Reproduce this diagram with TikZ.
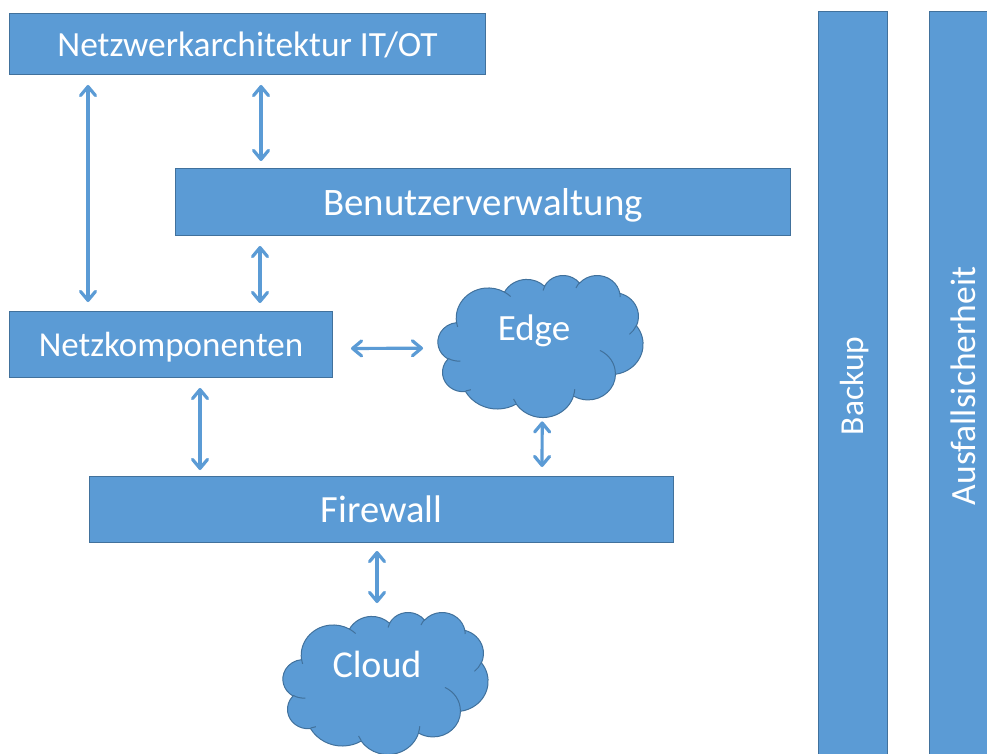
\documentclass[tikz,border=0pt]{standalone}
\usepackage{fontspec}
\setmainfont{Carlito}
\usetikzlibrary{arrows.meta}
\definecolor{shapefill}{HTML}{5B9BD5}
\definecolor{shapeline}{HTML}{41719C}
\newcommand\fsz[1]{\fontsize{#1pt}{#1pt}\selectfont}
% one arc of the cloud outline: radii in 1/43200 of the box,
% start and sweep are visual angles, turned into parametric ones
\newcommand\cldarc[4]{arc[x radius={#1/1000*\cldw/43.2}, y radius={#2/1000*\cldh/43.2},
  start angle={atan2(#1*sin(#3),#2*cos(#3))},
  delta angle={mod(atan2(#1*sin(#3+#4),#2*cos(#3+#4))-atan2(#1*sin(#3),#2*cos(#3))+720,360)}]}
% a point of the cloud, in thousandths of 43.2 units of the box
\newcommand\cldpt[2]{({\cldx+#1*\cldw/43.2},{\cldy+#2*\cldh/43.2})}
% cloud in the box with top left corner (#1,#2), width #3, height #4
\newcommand\officecloud[4]{%
  \def\cldx{#1}\def\cldy{#2}\def\cldw{#3}\def\cldh{#4}%
  \path[cloudbody] \cldpt{3.900}{14.370}
    \cldarc{6753}{9190}{-190.4875}{123.7805}
    \cldarc{5333}{7267}{-144.1024}{89.9452}
    \cldarc{4365}{5945}{-145.8079}{99.7230}
    \cldarc{4857}{6595}{-130.9861}{117.2417}
    \cldarc{5333}{7273}{-78.7089}{109.0269}
    \cldarc{6775}{9220}{-46.2673}{130.2690}
    \cldarc{5785}{7867}{0.6250}{114.0333}
    \cldarc{6752}{9215}{22.4516}{115.1726}
    \cldarc{7720}{10543}{66.2426}{75.7110}
    \cldarc{4360}{5918}{-274.9421}{146.7356}
    \cldarc{4345}{5945}{-246.8285}{152.5189}
    -- cycle;
  \path[cloudcrease]
    \cldpt{4.693}{26.177} \cldarc{4345}{5945}{86.742}{26.430}
    \cldpt{6.928}{34.899} \cldarc{4360}{5918}{73.610}{11.447}
    \cldpt{16.478}{39.090} \cldarc{6752}{9215}{137.624}{11.087}
    \cldpt{28.827}{34.751} \cldarc{6752}{9215}{6.453}{16.254}
    \cldpt{34.129}{22.954} \cldarc{5785}{7867}{-70.292}{70.917}
    \cldpt{41.798}{15.354} \cldarc{5333}{7273}{30.318}{27.752}
    \cldpt{38.324}{5.426} \cldarc{4857}{6595}{-13.744}{14.859}
    \cldpt{29.078}{3.952} \cldarc{4857}{6595}{-149.181}{18.195}
    \cldpt{22.141}{4.720} \cldarc{4365}{5945}{-163.494}{17.686}
    \cldpt{14.000}{5.192} \cldarc{6753}{9190}{-66.707}{12.319}
    \cldpt{4.127}{15.789} \cldarc{6753}{9190}{157.654}{11.858};
}
\tikzset{
  % #1 is the font size; the line box follows the font's ascent and descent
  box/.style={rectangle, fill=shapefill, draw=shapeline, line width=1pt,
    text=white, inner sep=0pt, font=\fsz{#1},
    text height=\fpeval{0.952*#1}pt, text depth=\fpeval{0.269*#1}pt},
  vbar/.style={box=#1, rotate=90, minimum width=748pt, minimum height=69pt},
  cloudbody/.style={fill=shapefill, draw=shapeline, line width=1pt},
  cloudcrease/.style={draw=shapeline, line width=1pt},
  cloudtext/.style={text=white, inner sep=0pt, anchor=base},
  helper/.style={inner sep=0pt, anchor=north west},
  conn/.style={draw=shapefill, line width=3.2pt,
    {Straight Barb[length=9pt,width=15pt,round]}-{Straight Barb[length=9pt,width=15pt,round]}}
}
\begin{document}
\begin{tikzpicture}[x=1pt, y=-1pt]
\useasboundingbox (0,0) rectangle (987,754);

% boxes
\node[box=35.4, anchor=north west, minimum width=476pt, minimum height=61pt]
  (arch) at (9,13) {Netzwerkarchitektur IT/OT};
\node[box=38.9, anchor=north west, minimum width=615pt, minimum height=67pt]
  (user) at (175,168) {Benutzerverwaltung};
\node[box=35, anchor=north west, minimum width=323pt, minimum height=66pt]
  (comp) at (9,311) {Netzkomponenten};
\node[box=38.5, anchor=north west, minimum width=584pt, minimum height=66pt]
  (fw) at (89,476) {Firewall};

% vertical bars
\node[vbar=33.5] (backup) at (852.5,386) {Backup};
\node[vbar=35.5] (failsafe) at (963.5,386) {Ausfallsicherheit};

% clouds
\node[helper, minimum width=205pt, minimum height=142pt] (edge) at (438,275) {};
\node[helper, minimum width=205pt, minimum height=142pt] (cloud) at (283,612) {};
\officecloud{438}{275}{205}{142}
\officecloud{283}{612}{205}{142}
\node[cloudtext, font=\fsz{37}] (edgetext) at (534,340) {Edge};
\node[cloudtext, font=\fsz{38}] (cloudtext) at (377,677) {Cloud};

% connectors
\draw[conn, shorten <=10pt, shorten >=9pt]
  ([xshift=79pt]arch.south west) -- ([xshift=79pt]comp.north west);
\draw[conn, shorten <=10pt, shorten >=7pt]
  ([xshift=252pt]arch.south west) -- ([xshift=86pt]user.north west);
\draw[conn, shorten <=10pt, shorten >=8pt]
  ([xshift=85pt]user.south west) -- ([xshift=251pt]comp.north west);
\draw[conn, shorten <=18pt, shorten >=15pt]
  ([yshift=-4pt]comp.east) -- ([yshift=-2pt]edge.west);
\draw[conn, shorten <=4pt, shorten >=9pt]
  ([xshift=1.5pt]edge.south) -- ([xshift=453pt]fw.north west);
\draw[conn, shorten <=10pt, shorten >=6pt]
  ([xshift=191pt]comp.south west) -- ([xshift=111pt]fw.north west);
\draw[conn, shorten <=8pt, shorten >=9pt]
  ([xshift=288pt]fw.south west) -- ([xshift=94pt]cloud.north west);
\end{tikzpicture}
\end{document}
